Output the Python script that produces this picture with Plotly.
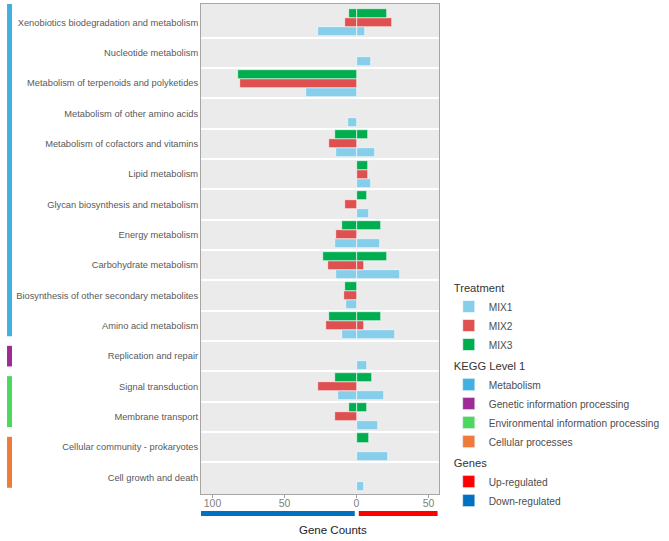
import plotly.graph_objects as go

# ---------------- data ----------------
categories = [
    "Xenobiotics biodegradation and metabolism",
    "Nucleotide metabolism",
    "Metabolism of terpenoids and polyketides",
    "Metabolism of other amino acids",
    "Metabolism of cofactors and vitamins",
    "Lipid metabolism",
    "Glycan biosynthesis and metabolism",
    "Energy metabolism",
    "Carbohydrate metabolism",
    "Biosynthesis of other secondary metabolites",
    "Amino acid metabolism",
    "Replication and repair",
    "Signal transduction",
    "Membrane transport",
    "Cellular community - prokaryotes",
    "Cell growth and death",
]
kegg_level1 = ["Metabolism"] * 11 + ["Genetic information processing"] + \
    ["Environmental information processing"] * 2 + ["Cellular processes"] * 2

# down-regulated counts (drawn to the left) and up-regulated counts (right)
mix1_down = [27, 0, 35, 6, 14, 0, 0, 15, 14, 7, 10, 0, 13, 0, 0, 0]
mix1_up   = [6, 10, 0, 0, 13, 10, 9, 16, 30, 0, 27, 7, 19, 15, 22, 5]
mix2_down = [8, 0, 81, 0, 19, 0, 8, 14, 20, 9, 21, 0, 27, 15, 0, 0]
mix2_up   = [25, 0, 0, 0, 0, 8, 0, 0, 5, 0, 5, 0, 0, 0, 0, 0]
mix3_down = [5, 0, 82, 0, 15, 0, 0, 10, 23, 8, 19, 0, 15, 5, 0, 0]
mix3_up   = [21, 0, 0, 0, 8, 8, 7, 17, 21, 0, 17, 0, 11, 7, 9, 0]

treatments = ["MIX1", "MIX2", "MIX3"]
kegg_groups = ["Metabolism", "Genetic information processing",
               "Environmental information processing", "Cellular processes"]
gene_dirs = ["Up-regulated", "Down-regulated"]
x_tickvals = [-100, -50, 0, 50]
x_ticktext = ["100", "50", "0", "50"]

# ---------------- styles ----------------
treat_colors = {"MIX1": "#87CEEB", "MIX2": "#DF5050", "MIX3": "#00AD4F"}
kegg_colors = {"Metabolism": "#41B0E1", "Genetic information processing": "#9E2A96",
               "Environmental information processing": "#4CD75E",
               "Cellular processes": "#EE7B3A"}
gene_colors = {"Up-regulated": "#FF0000", "Down-regulated": "#0070C0"}
offsets = {"MIX1": -0.45, "MIX2": -0.15, "MIX3": 0.15}
BAR_W = 0.3
FONT = "Liberation Sans, Arial, sans-serif"

n = len(categories)
ypos = [n - i for i in range(n)]  # top category gets highest y

series = {
    "MIX1": (mix1_down, mix1_up),
    "MIX2": (mix2_down, mix2_up),
    "MIX3": (mix3_down, mix3_up),
}

fig = go.Figure()

for t in treatments:
    down, up = series[t]
    xs, ys = [], []
    for yv, d, u in zip(ypos, down, up):
        if d:
            xs.append(-d); ys.append(yv)
        if u:
            xs.append(u); ys.append(yv)
    fig.add_trace(go.Bar(
        x=xs, y=ys, orientation="h", width=BAR_W, offset=offsets[t],
        marker=dict(color=treat_colors[t], line=dict(color="white", width=0.6)),
        name=t, legendgroup="treat", legendgrouptitle_text="Treatment",
        legendrank=1, hoverinfo="x+name",
    ))

for g in kegg_groups:
    fig.add_trace(go.Bar(x=[None], y=[None], orientation="h",
                         marker=dict(color=kegg_colors[g]), name=g,
                         legendgroup="kegg", legendgrouptitle_text="KEGG Level 1",
                         legendrank=2))
for g in gene_dirs:
    fig.add_trace(go.Bar(x=[None], y=[None], orientation="h",
                         marker=dict(color=gene_colors[g]), name=g,
                         legendgroup="genes", legendgrouptitle_text="Genes",
                         legendrank=3))

# left KEGG level-1 strips
shapes = []
for g in kegg_groups:
    rows = [ypos[i] for i in range(n) if kegg_level1[i] == g]
    lo, hi = min(rows) - 0.5 + 0.16, max(rows) + 0.5 - 0.16
    if g == "Metabolism":
        hi = max(rows) + 0.61
    shapes.append(dict(type="rect", xref="paper", yref="y",
                       x0=-0.815, x1=-0.794, y0=lo, y1=hi,
                       fillcolor=kegg_colors[g], line=dict(width=0), layer="above"))

# bottom up/down indicator bars
XMIN, XMAX = -108, 57.3
shapes.append(dict(type="rect", xref="x", yref="paper", x0=XMIN - 0.5, x1=-1.2,
                   y0=-0.045, y1=-0.0345, fillcolor=gene_colors["Down-regulated"],
                   line=dict(width=0)))
shapes.append(dict(type="rect", xref="x", yref="paper", x0=1.6, x1=XMAX - 1,
                   y0=-0.045, y1=-0.0345, fillcolor=gene_colors["Up-regulated"],
                   line=dict(width=0)))

fig.update_layout(
    width=669, height=541,
    margin=dict(l=201, r=230, t=4, b=47, autoexpand=False),
    paper_bgcolor="white", plot_bgcolor="#EBEBEB",
    barmode="overlay", bargap=0,
    font=dict(family=FONT, size=10, color="#4D4D4D"),
    shapes=shapes,
    legend=dict(
        x=1.041, y=0.204, xanchor="left", yanchor="middle",
        font=dict(size=10.2, color="#4D4D4D"),
        grouptitlefont=dict(size=11.2, color="#333333"),
        tracegroupgap=2, itemwidth=30, traceorder="grouped",
    ),
    annotations=[dict(text="Gene Counts", xref="paper", yref="paper",
                      x=0.555, y=-0.0735, xanchor="center", yanchor="middle",
                      showarrow=False, font=dict(size=11.5, color="#222222"))],
)

fig.update_xaxes(
    range=[XMIN, XMAX], tickvals=x_tickvals, ticktext=x_ticktext,
    showgrid=False, zeroline=False,
    ticks="outside", ticklen=3, tickcolor="#A0A0A0",
    ticklabelstandoff=-4,
    tickfont=dict(size=10.5, color="#7F7F7F"),
    showline=True, linecolor="#A6A6A6", linewidth=1, mirror=True,
)
fig.update_yaxes(
    range=[0.455, 16.61], tickvals=ypos, ticktext=categories,
    showgrid=False, zeroline=False, ticks="",
    tickfont=dict(size=9.3, color="#595959"),
    showline=True, linecolor="#A6A6A6", linewidth=1, mirror=True,
    minor=dict(tickvals=[y + 0.5 for y in ypos[1:]], showgrid=True,
               gridcolor="white", gridwidth=2, ticks=""),
)

fig.write_html("out.html")
